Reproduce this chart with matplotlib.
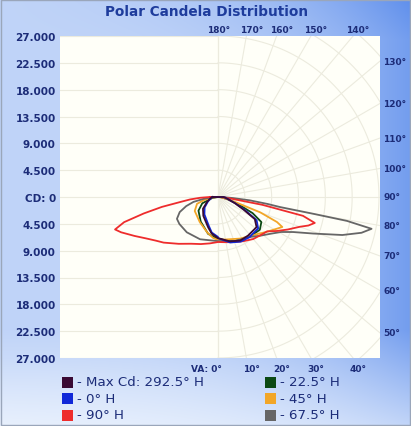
import numpy as np
import matplotlib
matplotlib.use('Agg')
import matplotlib.pyplot as plt
from matplotlib.patches import Rectangle

W, H = 411, 427

# candela scale ticks (left axis)
cd_ticks = [27000, 22500, 18000, 13500, 9000, 4500, 0,
            -4500, -9000, -13500, -18000, -22500, -27000]
va_grid = list(range(0, 181, 10))
top_labels = [180, 170, 160, 150, 140]
right_labels = [130, 120, 110, 100, 90, 80, 70, 60, 50]
bottom_labels = [0, 10, 20, 30, 40]

series_names = ['- Max Cd: 292.5° H', '- 0° H', '- 90° H',
                '- 22.5° H', '- 45° H', '- 67.5° H']
series_colors = ['#3a0a34', '#1028d8', '#ee2c2c', '#0c4a14', '#f2a628', '#666666']

# each plane: right half (VA, cd) and opposite half (VA, cd)
maxcd_va_r = [0, 15, 27, 38, 52, 59, 64, 70, 77, 85, 90]
maxcd_cd_r = [6900, 7700, 8200, 8200, 8200, 7200, 4700, 3000, 1800, 1200, 900]
maxcd_va_l = [0, 10, 18, 38, 52, 66, 80, 90]
maxcd_cd_l = [6900, 6200, 5350, 4000, 3200, 2000, 1300, 900]

h0_va_r = [0, 15, 27, 38, 52, 59, 64, 70, 77, 85, 90]
h0_cd_r = [6900, 7900, 8400, 8550, 8550, 7550, 5050, 3100, 1800, 1200, 900]
h0_va_l = [0, 10, 18, 38, 52, 66, 80, 90]
h0_cd_l = [6700, 6050, 5050, 3700, 2850, 1850, 1200, 900]

h90_va_r = [0, 10, 20, 30, 40, 50, 55, 60, 65, 70, 72.5, 75, 77.5, 80, 82.5, 85, 87.5, 90]
h90_cd_r = [7550, 7700, 8050, 8550, 9200, 9700, 10050, 11400, 12900, 14600, 15900,
            16800, 14600, 7550, 2500, 1200, 500, 0]
h90_va_l = [0, 10, 20, 30, 40, 50, 55, 60, 65, 70, 72.5, 75, 77.5, 80, 82.5, 85, 87.5, 90]
h90_cd_l = [7550, 7900, 8400, 9050, 10250, 11900, 12750, 13900, 15450, 17300, 18100,
            16300, 12750, 9550, 6350, 4700, 3000, 1350]

h22_va_r = [0, 20, 40, 52, 60, 65, 70, 77, 85, 90]
h22_cd_r = [7050, 7900, 8550, 8900, 8400, 6400, 3700, 1700, 500, 0]
h22_va_l = [0, 15, 35, 55, 68, 80, 90]
h22_cd_l = [7050, 6400, 5050, 4000, 2850, 1000, 0]

h45_va_r = [0, 28, 45, 54.5, 60, 65, 67, 70, 75, 80, 85, 90]
h45_cd_r = [7200, 7900, 8900, 10050, 10900, 11900, 10750, 7550, 2500, 1000, 350, 0]
h45_va_l = [0, 7, 17, 36, 59, 72, 78, 84, 90]
h45_cd_l = [7200, 6900, 6200, 5200, 4550, 3700, 2350, 1000, 0]

h67_va_r = [0, 20, 40, 47, 55, 61, 65, 69, 73, 76, 78.3, 79.5, 80, 80.8, 82, 84, 86, 88, 90]
h67_cd_r = [7400, 7900, 8700, 9550, 10750, 12100, 13900, 17100, 21800, 24800, 26300,
            22000, 16300, 10550, 8400, 5350, 2500, 1000, 0]
h67_va_l = [0, 23, 41.5, 55, 62, 68.5, 74, 78.7, 83, 87, 90]
h67_cd_l = [7400, 7700, 7900, 7900, 7800, 6900, 5550, 4200, 2350, 1000, 0]

planes = [
    (maxcd_va_r, maxcd_cd_r, maxcd_va_l, maxcd_cd_l),
    (h0_va_r, h0_cd_r, h0_va_l, h0_cd_l),
    (h90_va_r, h90_cd_r, h90_va_l, h90_cd_l),
    (h22_va_r, h22_cd_r, h22_va_l, h22_cd_l),
    (h45_va_r, h45_cd_r, h45_va_l, h45_cd_l),
    (h67_va_r, h67_cd_r, h67_va_l, h67_cd_l),
]
draw_order = [3, 4, 5, 2, 1, 0]

S = 27000 / 161.0   # candela per pixel
navy = '#1c2c78'

fig = plt.figure(figsize=(W / 100, H / 100), dpi=100)

# background gradient
bg = fig.add_axes([0, 0, 1, 1])
yy, xx = np.mgrid[0:H, 0:W]
t = 0.34 + 0.48 * (xx / W) ** 3
t = t + 0.12 * (xx / W) * np.clip((40 - yy) / 40, 0, 1)
t = t * (1 - 0.6 * np.clip((yy - 330) / 97, 0, 1))
t = t * (1 - 0.3 * np.clip((yy - 360) / 67, 0, 1) * (1 - xx / W))
light = np.array([0.97, 0.985, 1.0])
blue = np.array([0.33, 0.53, 0.92])
img = light[None, None, :] * (1 - t[..., None]) + blue[None, None, :] * t[..., None]
bg.imshow(img, aspect='auto', extent=[0, W, H, 0])
bg.set_xlim(0, W)
bg.set_ylim(H, 0)
bg.axis('off')
bg.add_patch(Rectangle((0.5, 0.5), W - 1.5, H - 1.5, fill=False, ec='#9aa6ba', lw=1))

# main plot area, centre at pixel (218, 198)
x0, x1, y0, y1 = 60, 380, 37, 359
ax = fig.add_axes([x0 / W, (H - y1) / H, (x1 - x0) / W, (y1 - y0) / H])
L = -(218 - x0) * S
R = (x1 - 218) * S
ax.set_xlim(L, R)
ax.set_ylim(-27000, 27000)
ax.set_facecolor('#fffff8')
for sp in ax.spines.values():
    sp.set_visible(False)
ax.set_xticks([])
ax.set_yticks(cd_ticks)
ax.set_yticklabels(['CD: 0' if v == 0 else f"{abs(v):,}".replace(',', '.') for v in cd_ticks])
ax.tick_params(axis='y', length=0, pad=3, labelsize=7.5, labelcolor=navy)
for lab in ax.get_yticklabels():
    lab.set_fontweight('bold')

gc = '#ecebde'
# horizontal grid on the left half
for v in cd_ticks:
    ax.plot([L, 0], [v, v], color=gc, lw=0.8, zorder=1)
ax.plot([0, 0], [-27000, 27000], color='#e2e0d0', lw=0.8, zorder=1)
# polar grid on the right half
big = 60000
for a in va_grid:
    r = np.radians(a)
    ax.plot([0, big * np.sin(r)], [0, -big * np.cos(r)], color=gc, lw=0.8, zorder=1)
th = np.radians(np.arange(0, 181, 2))
for k in range(1, 10):
    rr = 4500 * k
    ax.plot(rr * np.sin(th), -rr * np.cos(th), color=gc, lw=0.8, zorder=1)

# candela curves
for i in draw_order:
    va_r, cd_r, va_l, cd_l = planes[i]
    ar = np.radians(va_r)
    al = np.radians(va_l)[::-1]
    cr = np.array(cd_r, float)
    cl = np.array(cd_l, float)[::-1]
    xs = np.concatenate([-cl * np.sin(al), cr * np.sin(ar)])
    ys = np.concatenate([-cl * np.cos(al), -cr * np.cos(ar)])
    xs = np.append(xs, xs[0])
    ys = np.append(ys, ys[0])
    ax.plot(xs, ys, color=series_colors[i], lw=1.3, zorder=3, solid_joinstyle='round')


def edge_hit(a):
    r = np.radians(a)
    sx, sy = np.sin(r), -np.cos(r)
    ts = []
    if sx > 1e-9:
        ts.append(R / sx)
    if sy > 1e-9:
        ts.append(27000 / sy)
    if sy < -1e-9:
        ts.append(-27000 / sy)
    tt = min(ts)
    return tt * sx, tt * sy


lab_kw = dict(fontsize=6.5, fontweight='bold', color=navy, clip_on=False)
for a in top_labels:
    hx, hy = edge_hit(a)
    dx = 1 if a == 180 else 5
    ax.text(hx + dx * S, 27000 + 7 * S, f"{a}°", ha='center', va='center', **lab_kw)
for a in right_labels:
    hx, hy = edge_hit(a)
    ax.text(R + 3 * S, hy, f"{a}°", ha='left', va='center', **lab_kw)
for a in bottom_labels:
    hx, hy = edge_hit(a)
    if a == 0:
        ax.text(4 * S, -27000 - 11 * S, "VA: 0°", ha='right', va='center', **lab_kw)
    else:
        ax.text(hx + 5 * S, -27000 - 11 * S, f"{a}°", ha='center', va='center', **lab_kw)

fig.text(207 / W, 1 - 12 / H, 'Polar Candela Distribution', ha='center', va='center',
         fontsize=9.8, fontweight='bold', color='#1e3c9c')

# legend
for i, (name, col) in enumerate(zip(series_names, series_colors)):
    cx = [62, 265][i // 3]
    cy = 383 + 16.5 * (i % 3)
    bg.add_patch(Rectangle((cx, cy - 5.5), 11, 11, fc=col, ec='none'))
    bg.text(cx + 15, cy, name, ha='left', va='center', fontsize=9.6, color=navy)

fig.savefig('out.png', dpi=100)
